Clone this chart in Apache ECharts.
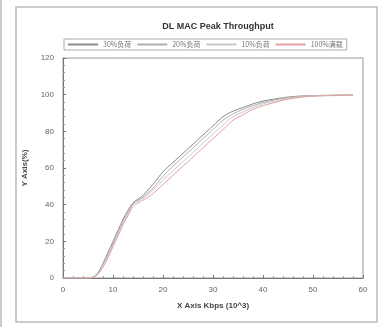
<!DOCTYPE html>
<html><head><meta charset="utf-8">
<script src="https://cdn.jsdelivr.net/npm/echarts@6/dist/echarts.min.js"></script>
<style>html,body{margin:0;padding:0;background:#fff}#c{width:385px;height:327px}</style>
</head><body><div id="c"></div>
<script>
var xValues = [0,5,6,7,8,9,10,11,12,13,14,15,16,17,18,20,22,24,26,28,30,32,34,36,38,40,42,44,46,48,50,54,58];
var seriesNames = ['30%负荷','20%负荷','10%负荷','100%满载'];
var s1 = [0,0,0.5,3,8,14,20,26,32,37,41,43,45,48,51,58,63,68,73,78,83,88,91,93,95,96.5,97.5,98.3,99,99.3,99.5,99.7,99.8];
var s2 = [0,0,0.4,2.7,7.5,13,19,25,31,36,40.5,42.5,44,46.5,49,55.5,61,66,71,76,81,86,89.5,92,94,95.8,97,98,98.7,99.1,99.4,99.6,99.8];
var s3 = [0,0,0.4,2.4,7,12,18,24,30,35,40,42,43.5,45.5,48,53.5,58.5,63.5,68.5,73.5,78.5,83.5,88,90.5,93,95,96.3,97.5,98.4,99,99.3,99.6,99.8];
var s4 = [0,0,0.3,2,6,11,17,23,29,34,39,41,42.5,44,46,51,56,61,66,71,76,81,86,89,92,94,95.5,97,98,98.7,99.2,99.5,99.8];
var xTicks = [0,10,20,30,40,50,60];
var yTicks = [0,20,40,60,80,100,120];
var colors = ['#8a8a8a','#b0b0b0','#c9c9c9','#e3a0a0'];
function pairs(ys){return xValues.map(function(x,i){return [x,ys[i]];});}
var chart = echarts.init(document.getElementById('c'));
chart.setOption({
  animation:false,
  title:{text:'DL MAC Peak Throughput',left:213,textAlign:'center',top:17,textStyle:{fontSize:9,fontWeight:'bold',color:'#333',fontFamily:'Liberation Sans'}},
  legend:{left:64,top:39,width:320,itemWidth:30,itemHeight:2,itemGap:6,padding:[2,4],borderColor:'#aaa',borderWidth:1,
    icon:'rect',textStyle:{fontSize:7,color:'#777',fontFamily:'Noto Sans CJK SC'},data:seriesNames},
  graphic:[{type:'rect',shape:{x:16,y:7,width:361,height:315},style:{fill:'none',stroke:'#bbb',lineWidth:1.5}},
           {type:'line',shape:{x1:1,y1:0,x2:1,y2:327},style:{stroke:'#ccc',lineWidth:2}}],
  grid:{left:63,right:22,top:58,bottom:49,show:true,borderColor:'#999',borderWidth:1},
  xAxis:{type:'value',min:0,max:60,interval:10,name:'X Axis Kbps (10^3)',nameLocation:'middle',nameGap:24,
    nameTextStyle:{fontSize:8,fontWeight:'bold',color:'#444',fontFamily:'Liberation Sans'},
    axisLine:{lineStyle:{color:'#777'}},axisTick:{inside:true,length:3,lineStyle:{color:'#777'}},
    minorTick:{show:true,splitNumber:5,length:2,lineStyle:{color:'#999'}},
    axisLabel:{fontSize:8,color:'#666',margin:8,customValues:xTicks},splitLine:{show:false}},
  yAxis:{type:'value',min:0,max:120,interval:20,name:'Y Axis(%)',nameLocation:'middle',nameGap:34,
    nameTextStyle:{fontSize:8,fontWeight:'bold',color:'#444',fontFamily:'Liberation Sans'},
    axisLine:{show:true,lineStyle:{color:'#777'}},axisTick:{show:true,inside:true,length:3,lineStyle:{color:'#777'}},
    minorTick:{show:true,splitNumber:5,length:2,lineStyle:{color:'#999'}},
    axisLabel:{fontSize:8,color:'#666',margin:9,customValues:yTicks},splitLine:{show:false}},
  series:[s1,s2,s3,s4].map(function(d,i){return {name:seriesNames[i],type:'line',smooth:0.3,symbol:'none',data:pairs(d),
    lineStyle:{width:1,color:colors[i]},itemStyle:{color:colors[i]}};})
});
</script></body></html>
